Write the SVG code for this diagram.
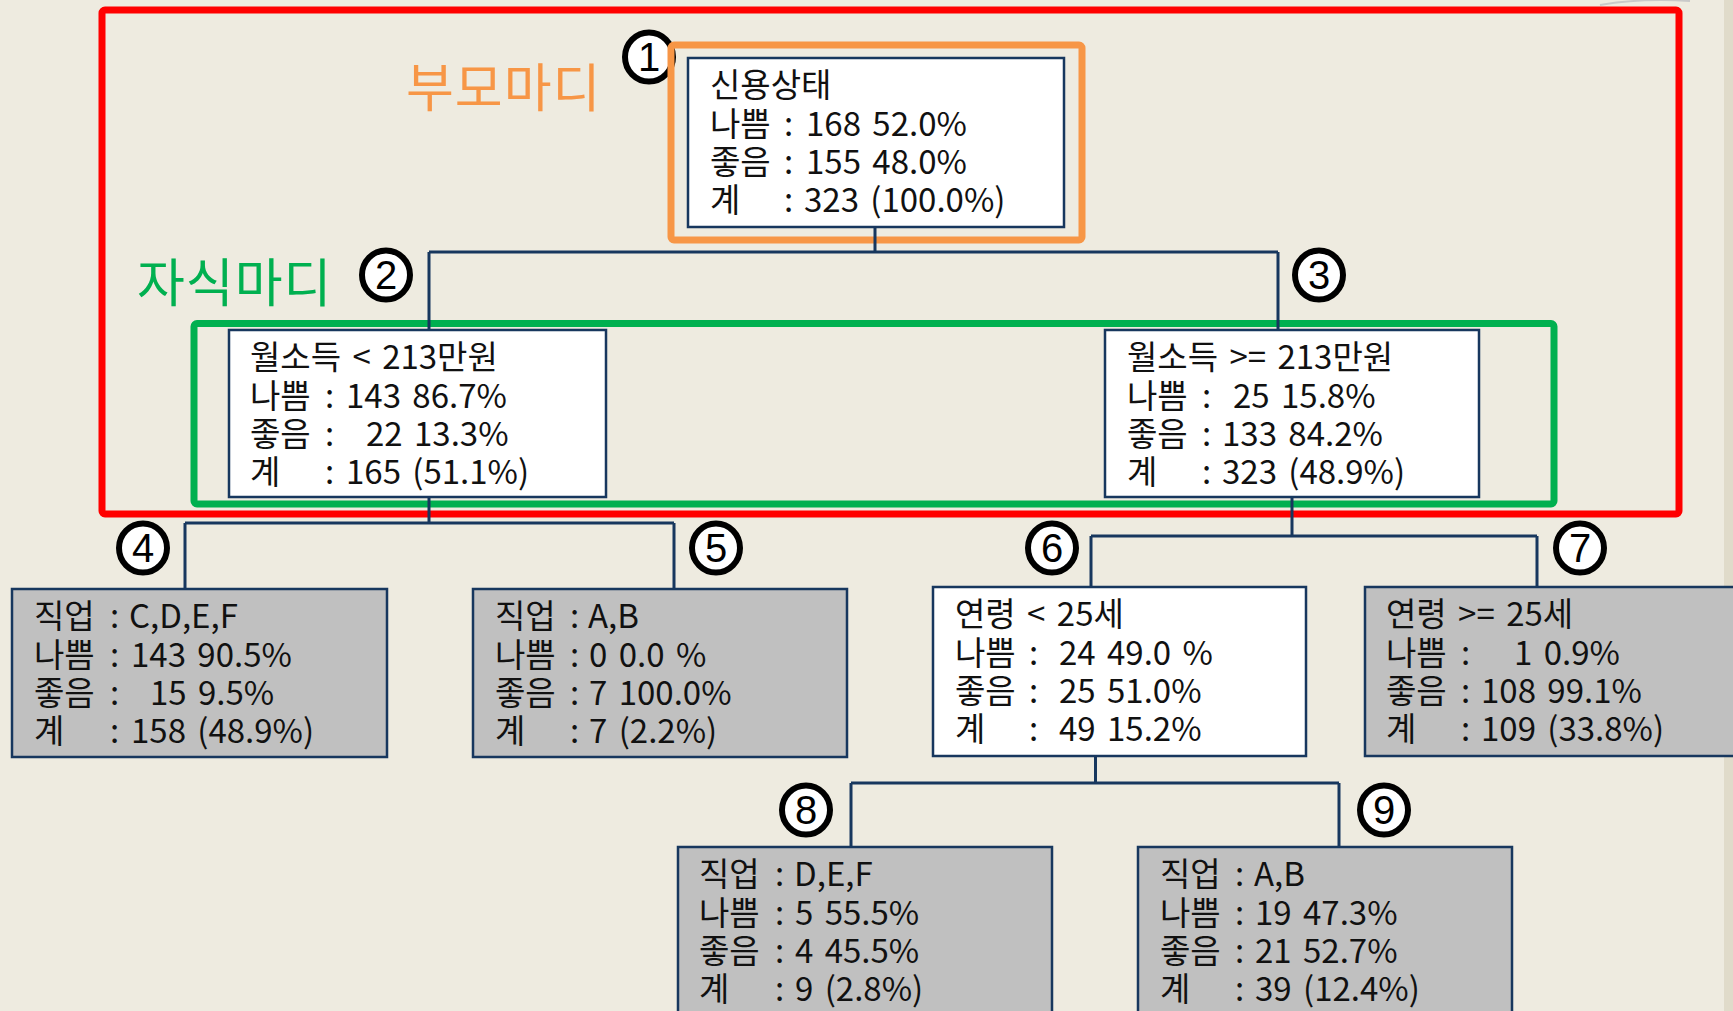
<svg xmlns="http://www.w3.org/2000/svg" width="1733" height="1011" viewBox="0 0 1733 1011">
<style>
.bg{fill:#EEEBE0}
.node rect{stroke:#17375E;stroke-width:2.5}
.w{fill:#FFFFFF}
.g{fill:#C0C0C0}
.t{font-family:"Noto Sans CJK KR","Noto Sans",sans-serif;font-size:33px;fill:#111111;word-spacing:4px}
.lbl{font-family:"Noto Sans CJK KR","Noto Sans",sans-serif;font-size:52px;letter-spacing:1px}
.conn path{fill:none;stroke:#17375E;stroke-width:3}
.hl{fill:none;stroke-width:7;stroke-linejoin:round}
.num ellipse{fill:#FFFFFF;stroke:#000000;stroke-width:6}
.num text{font-family:"Liberation Sans",Arial,sans-serif;font-size:40px;fill:#000000;text-anchor:middle}
</style>
<rect class="bg" x="0" y="0" width="1733" height="1011"/>
<rect x="1724" y="0" width="9" height="1011" fill="#E0DBCA"/>
<path d="M1600 5 Q1640 -2 1690 1" fill="none" stroke="#C9C9C9" stroke-width="2"/>

<g id="markers" class="num">
  <g id="num1"><ellipse cx="649" cy="57" rx="24" ry="24.5"/><text x="649" y="71">1</text></g>
  <g id="num2"><ellipse cx="386" cy="275" rx="24" ry="24.5"/><text x="386" y="289">2</text></g>
  <g id="num3"><ellipse cx="1319" cy="275" rx="24" ry="24.5"/><text x="1319" y="289">3</text></g>
  <g id="num4"><ellipse cx="143" cy="548" rx="24" ry="24.5"/><text x="143" y="562">4</text></g>
  <g id="num5"><ellipse cx="716" cy="548" rx="24" ry="24.5"/><text x="716" y="562">5</text></g>
  <g id="num6"><ellipse cx="1052" cy="548" rx="24" ry="24.5"/><text x="1052" y="562">6</text></g>
  <g id="num7"><ellipse cx="1580" cy="548" rx="24" ry="24.5"/><text x="1580" y="562">7</text></g>
  <g id="num8"><ellipse cx="806" cy="810" rx="24" ry="24.5"/><text x="806" y="824">8</text></g>
  <g id="num9"><ellipse cx="1384" cy="810" rx="24" ry="24.5"/><text x="1384" y="824">9</text></g>
</g>

<g id="highlights">
  <rect class="hl" x="102" y="10" width="1577" height="504" rx="3" stroke="#FF0000"/>
  <rect class="hl" x="671" y="45" width="411" height="195" rx="3" stroke="#F79646"/>
  <rect class="hl" x="194" y="323.5" width="1360" height="180.5" rx="3" stroke="#00B050"/>
</g>

<g id="labels">
  <text class="lbl" x="406" y="107" fill="#F79646">부모마디</text>
  <text class="lbl" x="137" y="302" fill="#00B050">자식마디</text>
</g>

<g id="connectors" class="conn">
  <path d="M875 227 V252 M429 252 H1278 M429 252 V330 M1278 252 V330"/>
  <path d="M429 497 V523 M185 523 H674 M185 523 V589 M674 523 V589"/>
  <path d="M1292 497 V536 M1091 536 H1537 M1091 536 V587 M1537 536 V587"/>
  <path d="M1095.5 756 V783 M851 783 H1339 M851 783 V847 M1339 783 V847"/>
</g>

<g id="node1" class="node">
  <rect class="w" x="688" y="58" width="376" height="169"/>
  <text class="t"><tspan x="710" y="97">신용상태</tspan><tspan x="710" y="136">나쁨</tspan><tspan x="784" y="136">:</tspan><tspan x="806" y="136">168 52.0%</tspan><tspan x="710" y="174">좋음</tspan><tspan x="784" y="174">:</tspan><tspan x="806" y="174">155 48.0%</tspan><tspan x="710" y="212">계</tspan><tspan x="784" y="212">:</tspan><tspan x="804" y="212">323 (100.0%)</tspan></text>
</g>

<g id="node2" class="node">
  <rect class="w" x="229" y="330" width="377" height="167"/>
  <text class="t"><tspan x="250" y="369">월소득 &lt; 213만원</tspan><tspan x="250" y="408">나쁨</tspan><tspan x="325" y="408">:</tspan><tspan x="346" y="408">143 86.7%</tspan><tspan x="250" y="446">좋음</tspan><tspan x="325" y="446">:</tspan><tspan x="366" y="446">22 13.3%</tspan><tspan x="250" y="484">계</tspan><tspan x="325" y="484">:</tspan><tspan x="346" y="484">165 (51.1%)</tspan></text>
</g>

<g id="node3" class="node">
  <rect class="w" x="1105" y="330" width="374" height="167"/>
  <text class="t"><tspan x="1127" y="369">월소득 &gt;= 213만원</tspan><tspan x="1127" y="408">나쁨</tspan><tspan x="1202" y="408">:</tspan><tspan x="1233" y="408">25 15.8%</tspan><tspan x="1127" y="446">좋음</tspan><tspan x="1202" y="446">:</tspan><tspan x="1222" y="446">133 84.2%</tspan><tspan x="1127" y="484">계</tspan><tspan x="1202" y="484">:</tspan><tspan x="1222" y="484">323 (48.9%)</tspan></text>
</g>

<g id="node4" class="node">
  <rect class="g" x="12" y="589" width="375" height="168"/>
  <text class="t"><tspan x="34" y="628">직업</tspan><tspan x="110" y="628">:</tspan><tspan x="129" y="628">C,D,E,F</tspan><tspan x="34" y="667">나쁨</tspan><tspan x="110" y="667">:</tspan><tspan x="131" y="667">143 90.5%</tspan><tspan x="34" y="705">좋음</tspan><tspan x="110" y="705">:</tspan><tspan x="150" y="705">15 9.5%</tspan><tspan x="34" y="743">계</tspan><tspan x="110" y="743">:</tspan><tspan x="131" y="743">158 (48.9%)</tspan></text>
</g>

<g id="node5" class="node">
  <rect class="g" x="473" y="589" width="374" height="168"/>
  <text class="t"><tspan x="495" y="628">직업</tspan><tspan x="570" y="628">:</tspan><tspan x="588" y="628">A,B</tspan><tspan x="495" y="667">나쁨</tspan><tspan x="570" y="667">:</tspan><tspan x="589" y="667">0 0.0 %</tspan><tspan x="495" y="705">좋음</tspan><tspan x="570" y="705">:</tspan><tspan x="589" y="705">7 100.0%</tspan><tspan x="495" y="743">계</tspan><tspan x="570" y="743">:</tspan><tspan x="589" y="743">7 (2.2%)</tspan></text>
</g>

<g id="node6" class="node">
  <rect class="w" x="933" y="587" width="373" height="169"/>
  <text class="t"><tspan x="955" y="626">연령 &lt; 25세</tspan><tspan x="955" y="665">나쁨</tspan><tspan x="1029" y="665">:</tspan><tspan x="1059" y="665">24 49.0 %</tspan><tspan x="955" y="703">좋음</tspan><tspan x="1029" y="703">:</tspan><tspan x="1059" y="703">25 51.0%</tspan><tspan x="955" y="741">계</tspan><tspan x="1029" y="741">:</tspan><tspan x="1059" y="741">49 15.2%</tspan></text>
</g>

<g id="node7" class="node">
  <rect class="g" x="1365" y="587" width="390" height="169"/>
  <text class="t"><tspan x="1386" y="626">연령 &gt;= 25세</tspan><tspan x="1386" y="665">나쁨</tspan><tspan x="1461" y="665">:</tspan><tspan x="1514" y="665">1 0.9%</tspan><tspan x="1386" y="703">좋음</tspan><tspan x="1461" y="703">:</tspan><tspan x="1481" y="703">108 99.1%</tspan><tspan x="1386" y="741">계</tspan><tspan x="1461" y="741">:</tspan><tspan x="1481" y="741">109 (33.8%)</tspan></text>
</g>

<g id="node8" class="node">
  <rect class="g" x="678" y="847" width="374" height="180"/>
  <text class="t"><tspan x="699" y="886">직업</tspan><tspan x="775" y="886">:</tspan><tspan x="794" y="886">D,E,F</tspan><tspan x="699" y="925">나쁨</tspan><tspan x="775" y="925">:</tspan><tspan x="795" y="925">5 55.5%</tspan><tspan x="699" y="963">좋음</tspan><tspan x="775" y="963">:</tspan><tspan x="795" y="963">4 45.5%</tspan><tspan x="699" y="1001">계</tspan><tspan x="775" y="1001">:</tspan><tspan x="795" y="1001">9 (2.8%)</tspan></text>
</g>

<g id="node9" class="node">
  <rect class="g" x="1138" y="847" width="374" height="180"/>
  <text class="t"><tspan x="1160" y="886">직업</tspan><tspan x="1235" y="886">:</tspan><tspan x="1254" y="886">A,B</tspan><tspan x="1160" y="925">나쁨</tspan><tspan x="1235" y="925">:</tspan><tspan x="1255" y="925">19 47.3%</tspan><tspan x="1160" y="963">좋음</tspan><tspan x="1235" y="963">:</tspan><tspan x="1255" y="963">21 52.7%</tspan><tspan x="1160" y="1001">계</tspan><tspan x="1235" y="1001">:</tspan><tspan x="1255" y="1001">39 (12.4%)</tspan></text>
</g>
</svg>
